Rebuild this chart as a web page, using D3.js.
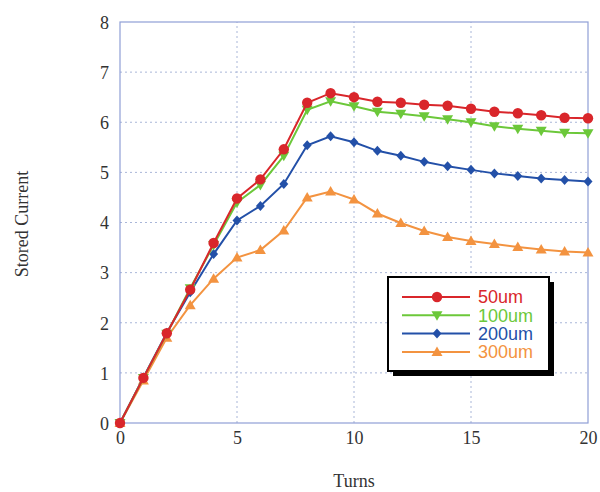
<!DOCTYPE html>
<html>
<head>
<meta charset="utf-8">
<script src="https://cdn.jsdelivr.net/npm/d3@7"></script>
<style>
  body { margin: 0; background: #fff; }
  svg { display: block; }
</style>
</head>
<body>
<div id="chart"></div>
<script>
// turns on the x axis
var turns = [0, 1, 2, 3, 4, 5, 6, 7, 8, 9, 10, 11, 12, 13, 14, 15, 16, 17, 18, 19, 20];

// stored current for each width
var s50  = [0, 0.90, 1.79, 2.66, 3.59, 4.48, 4.86, 5.46, 6.39, 6.58, 6.50, 6.41, 6.39, 6.35, 6.33, 6.27, 6.21, 6.18, 6.14, 6.09, 6.08];
var s100 = [0, 0.90, 1.78, 2.69, 3.55, 4.40, 4.75, 5.33, 6.25, 6.42, 6.32, 6.21, 6.17, 6.12, 6.06, 6.00, 5.92, 5.87, 5.83, 5.79, 5.78];
var s200 = [0, 0.91, 1.80, 2.61, 3.37, 4.04, 4.33, 4.77, 5.54, 5.72, 5.60, 5.43, 5.33, 5.21, 5.12, 5.05, 4.98, 4.93, 4.88, 4.85, 4.82];
var s300 = [0, 0.85, 1.70, 2.35, 2.88, 3.30, 3.45, 3.84, 4.50, 4.62, 4.46, 4.18, 3.99, 3.83, 3.71, 3.63, 3.57, 3.51, 3.46, 3.42, 3.40];

var seriesNames = ['50um', '100um', '200um', '300um'];
var seriesColors = ['#d9262b', '#6cc83a', '#2350a8', '#f39340'];
var seriesShapes = ['circle', 'down', 'diamond', 'up'];

var xTicks = [0, 5, 10, 15, 20];
var yTicks = [0, 1, 2, 3, 4, 5, 6, 7, 8];

var W = 600, H = 492;
var margin = {left: 120, right: 12, top: 22, bottom: 69};

var svg = d3.select('#chart').append('svg')
  .attr('width', W).attr('height', H);

var x = d3.scaleLinear().domain([0, 20]).range([margin.left, W - margin.right]);
var y = d3.scaleLinear().domain([0, 8]).range([H - margin.bottom, margin.top]);

var frameColor = '#8f9fd6';
var gridColor = '#a9b6d8';

// grid lines (dotted)
svg.append('g').selectAll('line.gx')
  .data(xTicks.slice(1, -1))
  .enter().append('line')
  .attr('x1', function(d) { return x(d); })
  .attr('x2', function(d) { return x(d); })
  .attr('y1', y(0)).attr('y2', y(8))
  .attr('stroke', gridColor).attr('stroke-width', 1)
  .attr('stroke-dasharray', '2,3');

svg.append('g').selectAll('line.gy')
  .data(yTicks.slice(1, -1))
  .enter().append('line')
  .attr('y1', function(d) { return y(d); })
  .attr('y2', function(d) { return y(d); })
  .attr('x1', x(0)).attr('x2', x(20))
  .attr('stroke', gridColor).attr('stroke-width', 1)
  .attr('stroke-dasharray', '2,3');

// frame
svg.append('rect')
  .attr('x', x(0)).attr('y', y(8))
  .attr('width', x(20) - x(0)).attr('height', y(0) - y(8))
  .attr('fill', 'none').attr('stroke', frameColor).attr('stroke-width', 1.2);

// axes with d3 (labels only, lines hidden)
var xAxis = svg.append('g')
  .attr('transform', 'translate(0,' + y(0) + ')')
  .call(d3.axisBottom(x).tickValues(xTicks).tickSize(0).tickPadding(8));
var yAxis = svg.append('g')
  .attr('transform', 'translate(' + x(0) + ',0)')
  .call(d3.axisLeft(y).tickValues(yTicks).tickSize(0).tickPadding(11));

[xAxis, yAxis].forEach(function(a) {
  a.select('.domain').remove();
  a.selectAll('text')
    .attr('font-family', '"Liberation Serif", "DejaVu Serif", serif')
    .attr('font-size', 18)
    .attr('fill', '#333');
});
yAxis.selectAll('text').attr('dy', '0.35em');

// axis titles
svg.append('text')
  .attr('x', (x(0) + x(20)) / 2 + 0)
  .attr('y', 487)
  .attr('text-anchor', 'middle')
  .attr('font-family', '"Liberation Serif", serif')
  .attr('font-size', 18)
  .attr('fill', '#333')
  .text('Turns');

svg.append('text')
  .attr('transform', 'translate(28,' + 224 + ') rotate(-90)')
  .attr('text-anchor', 'middle')
  .attr('font-family', '"Liberation Serif", serif')
  .attr('font-size', 18)
  .attr('fill', '#333')
  .text('Stored Current');

// marker shapes
function markerPath(shape) {
  if (shape == 'circle') return d3.symbol().type(d3.symbolCircle).size(85)();
  if (shape == 'diamond') return 'M0,-5L4.5,0L0,5L-4.5,0Z';
  if (shape == 'up') return 'M0,-5.5L5.5,4L-5.5,4Z';
  return 'M0,5.5L5.5,-4L-5.5,-4Z';
}

var allSeries = [s50, s100, s200, s300];
var line = d3.line()
  .x(function(d, i) { return x(turns[i]); })
  .y(function(d) { return y(d); });

// draw from last to first so red stays on top
for (var k = allSeries.length - 1; k >= 0; k--) {
  var vals = allSeries[k];
  var g = svg.append('g');
  g.append('path')
    .datum(vals)
    .attr('d', line)
    .attr('fill', 'none')
    .attr('stroke', seriesColors[k])
    .attr('stroke-width', 2);
  g.selectAll('path.m')
    .data(vals)
    .enter().append('path')
    .attr('class', 'm')
    .attr('d', markerPath(seriesShapes[k]))
    .attr('transform', function(d, i) { return 'translate(' + x(turns[i]) + ',' + y(d) + ')'; })
    .attr('fill', seriesColors[k]);
}

// legend box with shadow
var lg = svg.append('g').attr('transform', 'translate(388,277)');
lg.append('rect')
  .attr('x', 5).attr('y', 5).attr('width', 161).attr('height', 94)
  .attr('fill', '#000');
lg.append('rect')
  .attr('x', 0).attr('y', 0).attr('width', 161).attr('height', 94)
  .attr('fill', '#fff').attr('stroke', '#000').attr('stroke-width', 2);

seriesNames.forEach(function(name, k) {
  var ry = 20 + k * 18.3;
  lg.append('line')
    .attr('x1', 14).attr('x2', 82)
    .attr('y1', ry).attr('y2', ry)
    .attr('stroke', seriesColors[k]).attr('stroke-width', 2);
  lg.append('path')
    .attr('d', markerPath(seriesShapes[k]))
    .attr('transform', 'translate(49,' + ry + ')')
    .attr('fill', seriesColors[k]);
  lg.append('text')
    .attr('x', 90).attr('y', ry)
    .attr('dy', '0.36em')
    .attr('font-family', '"Liberation Sans", Arial, sans-serif')
    .attr('font-size', 18)
    .attr('fill', seriesColors[k])
    .text(name);
});
</script>
</body>
</html>
